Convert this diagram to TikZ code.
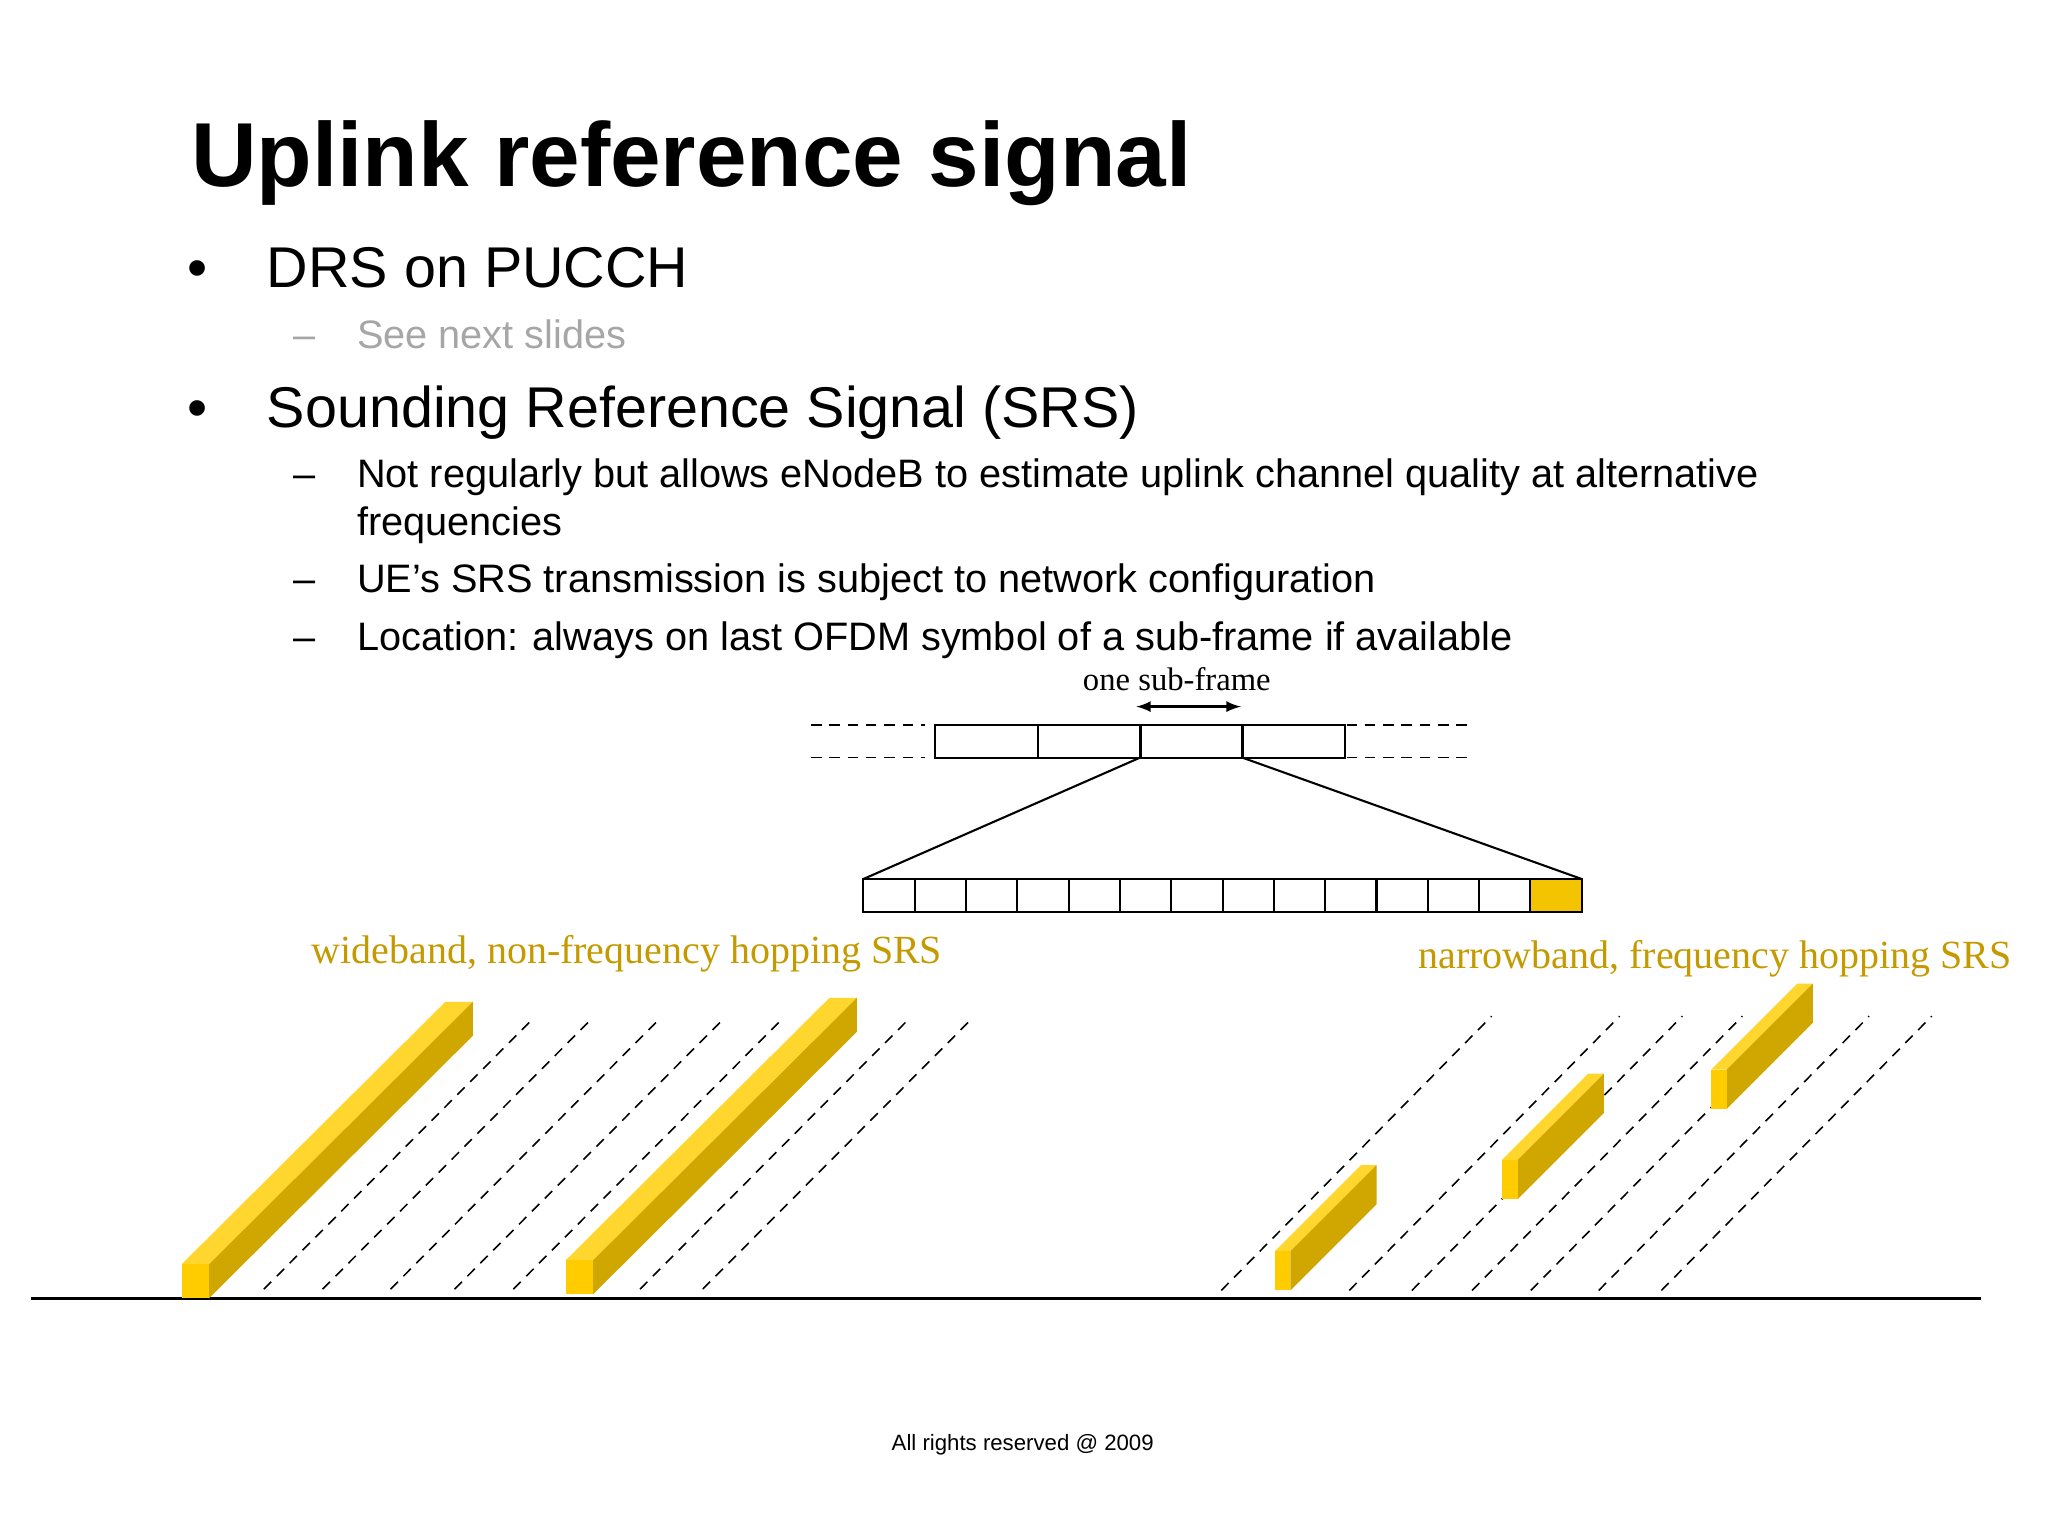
\documentclass[tikz,border=0pt]{standalone}
\usepackage{fontspec}
\setmainfont{Liberation Sans}
\newfontfamily\serifx{Liberation Serif}
\begin{document}
\begin{tikzpicture}[x=0.5pt,y=-0.5pt,
  txt/.style={anchor=base west,inner sep=0},
  cell/.style={draw,line width=0.8pt},
  dl/.style={dashed,line width=0.6pt,dash pattern=on 4pt off 3pt},
  lab/.style={text=gold,font=\serifx\fontsize{15.3}{18}\selectfont,inner sep=0},
  topf/.style={fill=ylight}, frontf/.style={fill=yfront}, sidef/.style={fill=ydark}]
\definecolor{gold}{HTML}{C49A00}
\definecolor{ylight}{HTML}{FFD62E}
\definecolor{yfront}{HTML}{FFCC00}
\definecolor{ydark}{HTML}{D0A700}
\definecolor{ycell}{HTML}{F5C400}
\useasboundingbox (0,0) rectangle (1568,1177);
% text
\node[txt,font=\bfseries\fontsize{34.8}{40}\selectfont] (title) at (146,143) {Uplink reference signal};
\begin{scope}[font=\fontsize{22}{26}\selectfont]
\node[txt] (b1) at (143,220) {•};
\node[txt] (t1) at (204,220) {DRS on PUCCH};
\node[txt] (b2) at (143,327) {•};
\node[txt] (t2) at (204,327) {Sounding Reference Signal (SRS)};
\end{scope}
\begin{scope}[font=\fontsize{15.2}{18}\selectfont]
\node[txt,text=gray!70] (d0) at (224,267) {–};
\node[txt,text=gray!70] (s0) at (273,267) {See next slides};
\node[txt] (d1) at (224,373) {–};
\node[txt] (s1) at (273,373) {Not regularly but allows eNodeB to estimate uplink channel quality at alternative};
\node[txt] (s1b) at (273,410) {frequencies};
\node[txt] (d2) at (224,454) {–};
\node[txt] (s2) at (273,454) {UE’s SRS transmission is subject to network configuration};
\node[txt] (d3) at (224,498) {–};
\node[txt] (s3) at (273,498) {Location: always on last OFDM symbol of a sub-frame if available};
\end{scope}
\node[font=\fontsize{8.5}{10}\selectfont,inner sep=0] (foot) at (783,1106) {All rights reserved @ 2009};
% sub-frame diagram
\node[font=\serifx\fontsize{12.5}{14}\selectfont,inner sep=0] (osf) at (901,520) {one sub-frame};
\coordinate (aL) at (870,541); \coordinate (aR) at (950,541);
\draw[<->,>=latex,line width=0.9pt] (aL) -- (aR);
\foreach \i/\x in {0/716,1/795,2/873,3/951}{
  \pgfmathsetmacro\xe{\x+78.5}
  \draw[cell] (\x,555) rectangle (\xe,580);
}
\draw[dl] (621,555) -- (708,555); \draw[dl] (621,580) -- (708,580);
\draw[dl] (1031,555) -- (1123,555); \draw[dl] (1031,580) -- (1123,580);
\fill[ycell] (1171.7,673) rectangle (1211,698);
\foreach \i in {0,...,13}{
  \pgfmathsetmacro\xa{661+\i*39.2857}
  \pgfmathsetmacro\xb{\xa+39.2857}
  \draw[cell] (\xa,673) rectangle (\xb,698);
}
\draw[line width=0.8pt] (873,580) -- (661,673);
\draw[line width=0.8pt] (951,580) -- (1211,673);
% labels
\node[lab] (wl) at (480,730) {wideband, non-frequency hopping SRS};
\node[lab] (nl) at (1313,734) {narrowband, frequency hopping SRS};
% baseline
\draw[line width=1.3pt] (24,994) -- (1517,994);
% dashed lines
\foreach \x in {202,247,299,348,393,490,538}{\draw[dl] (\x,987) -- (\x+206,780);}
\foreach \x in {935,1033,1081,1127,1172,1224,1272}{\draw[dl] (\x,988) -- (\x+207,778);}
% wide bars
\foreach \x/\y in {139/994,433/991}{
  \fill[topf] (\x,\y-26) -- (\x+21,\y-26) -- (\x+223,\y-227) -- (\x+202,\y-227) -- cycle;
  \fill[sidef] (\x+21,\y-26) -- (\x+21,\y) -- (\x+223,\y-201) -- (\x+223,\y-227) -- cycle;
  \fill[frontf] (\x,\y-26) rectangle (\x+21,\y);
}
% narrow bars
\foreach \x/\y in {976/988,1150/918,1310/849}{
  \fill[topf] (\x,\y-30) -- (\x+12,\y-30) -- (\x+78,\y-96) -- (\x+66,\y-96) -- cycle;
  \fill[sidef] (\x+12,\y-30) -- (\x+12,\y) -- (\x+78,\y-66) -- (\x+78,\y-96) -- cycle;
  \fill[frontf] (\x,\y-30) rectangle (\x+12,\y);
}
\end{tikzpicture}
\end{document}
